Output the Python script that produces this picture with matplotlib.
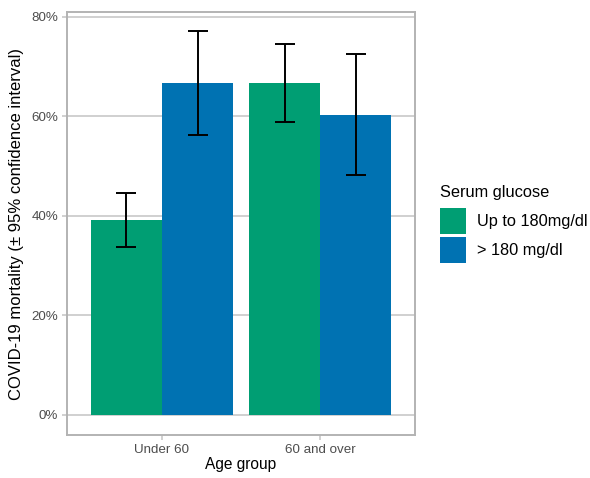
import matplotlib
matplotlib.use("Agg")
import matplotlib.pyplot as plt
import numpy as np
from matplotlib.patches import Patch
from matplotlib.ticker import FuncFormatter

plt.rcParams['font.family'] = ['Liberation Sans', 'DejaVu Sans']

age_groups = ["Under 60", "60 and over"]
series_names = ["Up to 180mg/dl", "> 180 mg/dl"]
mortality = {"Up to 180mg/dl": [39.2, 66.7], "> 180 mg/dl": [66.7, 60.2]}
ci_low = {"Up to 180mg/dl": [33.8, 58.8], "> 180 mg/dl": [56.3, 48.2]}
ci_high = {"Up to 180mg/dl": [44.5, 74.6], "> 180 mg/dl": [77.2, 72.5]}
colors = {"Up to 180mg/dl": "#009E73", "> 180 mg/dl": "#0072B2"}
y_ticks = [0, 20, 40, 60, 80]

fig = plt.figure(figsize=(5.9, 4.78), dpi=100)
ax = fig.add_axes([67/590, 1-435/478, (415-67)/590, (435-12)/478])

x = np.arange(len(age_groups))
w = 0.45
grid_c = "#C8C8C8"
for i, s in enumerate(series_names):
    pos = x + (i - 0.5) * w
    ax.bar(pos, mortality[s], width=w, color=colors[s], zorder=3)
    lo = np.array(mortality[s]) - np.array(ci_low[s])
    hi = np.array(ci_high[s]) - np.array(mortality[s])
    ax.errorbar(pos, mortality[s], yerr=[lo, hi], fmt='none', ecolor='black',
                elinewidth=1.4, capsize=7.5, capthick=1.4, zorder=4)

ax.set_xlim(-0.6, 1.6)
ax.set_ylim(-4.1, 81)
ax.set_yticks(y_ticks)
ax.yaxis.set_major_formatter(FuncFormatter(lambda v, p: f"{int(v)}%"))
ax.set_xticks(x)
ax.set_xticklabels(age_groups)
ax.grid(axis='y', color=grid_c, linewidth=1.2, zorder=0)
for sp in ax.spines.values():
    sp.set_color("#B3B3B3")
    sp.set_linewidth(1.4)
ax.tick_params(axis='both', colors=grid_c, length=3.5, width=1.2, labelsize=9.6,
               labelcolor="#4D4D4D", pad=3)
ax.set_xlabel("Age group", fontsize=11.2, color="black", labelpad=1)
ax.set_ylabel("COVID-19 mortality (± 95% confidence interval)", fontsize=12, color="black", labelpad=5)

handles = [Patch(facecolor=colors[s], edgecolor='none', label=s) for s in series_names]
leg = fig.legend(handles=handles, title="Serum glucose", loc='upper left',
                 bbox_to_anchor=(440/590, 1-185/478), frameon=False, fontsize=11.8,
                 title_fontsize=11.8, handlelength=1.61, handleheight=2.06,
                 handletextpad=0.62, labelspacing=0.14, borderaxespad=0, borderpad=0)
leg._legend_box.align = "left"
leg._legend_box.sep = 6

fig.savefig("out.png", dpi=100)
